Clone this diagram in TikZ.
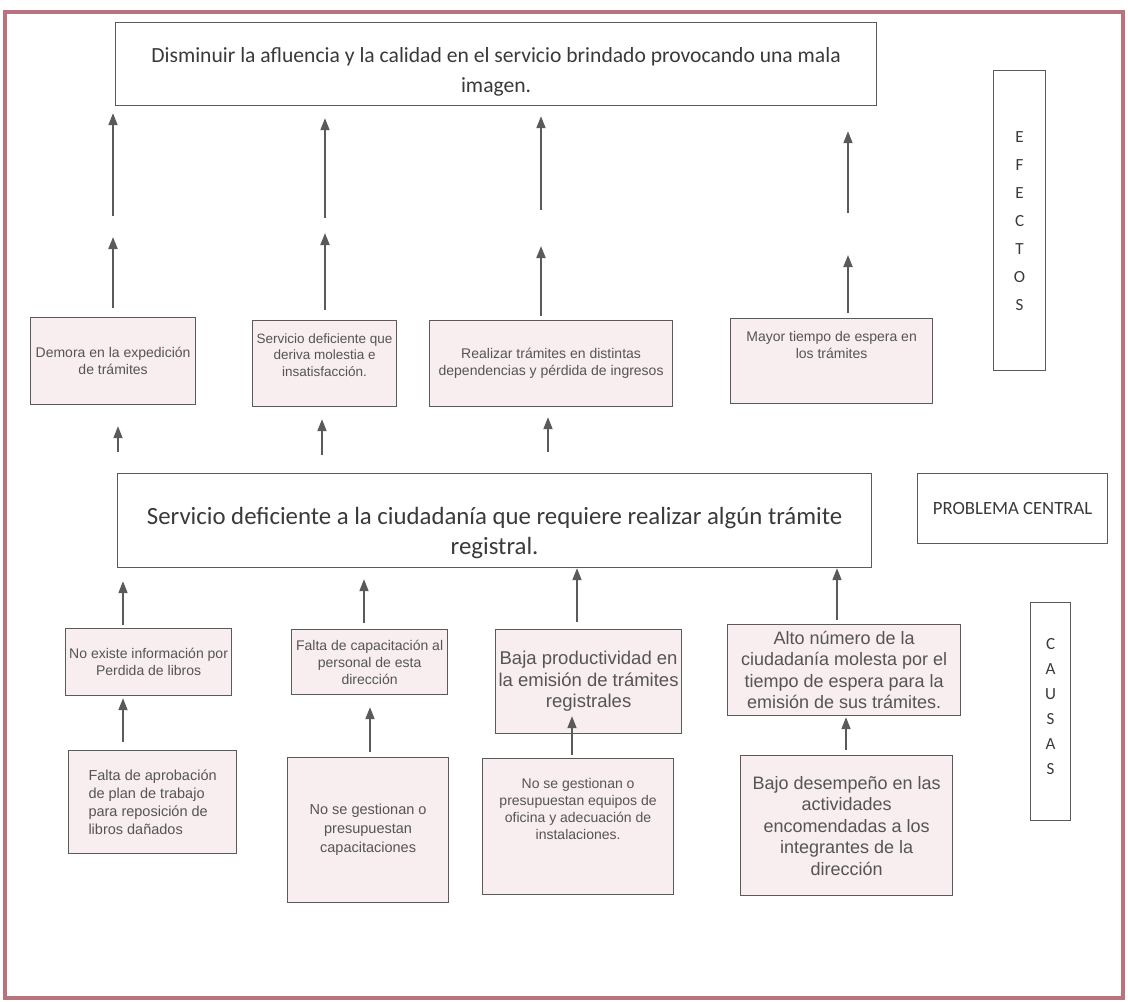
\documentclass[tikz,border=0pt]{standalone}
\usepackage{fontspec}
\setmainfont{Carlito}
\newfontfamily\arialf{Liberation Sans}
\usetikzlibrary{arrows.meta}

\definecolor{marco}{HTML}{B8737E}
\definecolor{rosa}{HTML}{F8EDEF}
\definecolor{linea}{HTML}{5A5A5A}
\definecolor{texto}{HTML}{3A3A3A}
\definecolor{textob}{HTML}{555555}

\tikzset{
  caja/.style={draw=linea, line width=1.2pt, fill=white, anchor=north west,
    inner sep=0pt, align=center, text=texto},
  rosabox/.style={caja, fill=rosa, text=textob},
  chico/.style={font=\arialf\fontsize{14}{17}\selectfont},
  grande/.style={font=\arialf\fontsize{18}{21.5}\selectfont},
  letras/.style={caja, font=\fontsize{17}{#1}\selectfont},
  arr/.style={draw=linea, line width=1.8pt, -{Triangle[length=12pt,width=9pt]}},
}

\begin{document}
\begin{tikzpicture}[x=1pt,y=-1pt]

\useasboundingbox (0,0) rectangle (1128,1002);
\draw[marco, line width=4pt] (5,12) rectangle (1123,998);

% efectos
\node[caja, minimum width=761pt, minimum height=83pt,
  font=\fontsize{21.6}{30}\selectfont] (top) at (115,22)
  {\rule{0pt}{31pt}Disminuir la afluencia y la calidad en el servicio brindado provocando una mala\\imagen.};
\node[letras=28, minimum width=52pt, minimum height=300pt] (efx) at (993,70)
  {E\\F\\E\\C\\T\\O\\S};

\node[rosabox, chico, minimum width=165pt, minimum height=87pt] (e1) at (30,317)
  {Demora en la expedición\\de trámites};
\node[rosabox, chico, font=\arialf\fontsize{13.5}{16.5}\selectfont,
  minimum width=144pt, minimum height=86pt, text depth=17pt] (e2) at (252,320)
  {Servicio deficiente que\\deriva molestia e\\insatisfacción.};
\node[rosabox, chico, minimum width=243pt, minimum height=86pt] (e3) at (429,320)
  {Realizar trámites en distintas\\dependencias y pérdida de ingresos};
\node[rosabox, chico, minimum width=202pt, minimum height=85pt, text depth=32pt] (e4) at (730,318)
  {Mayor tiempo de espera en\\los trámites};

% problema central
\node[caja, minimum width=754pt, minimum height=94pt,
  font=\fontsize{24.8}{30}\selectfont] (cen) at (117,473)
  {\rule{0pt}{42pt}Servicio deficiente a la ciudadanía que requiere realizar algún trámite\\registral.};
\node[caja, minimum width=190pt, minimum height=70pt,
  font=\fontsize{18.7}{20}\selectfont] (pc) at (917,473) {PROBLEMA CENTRAL};

% causas
\node[letras=25, minimum width=40pt, minimum height=218pt, text depth=10pt] (cau) at (1030,602)
  {C\\A\\U\\S\\A\\S};

\node[rosabox, chico, minimum width=166pt, minimum height=67pt] (c1) at (65,628)
  {No existe información por\\Perdida de libros};
\node[rosabox, chico, minimum width=156pt, minimum height=65pt] (c2) at (291,629)
  {Falta de capacitación al\\personal de esta\\dirección};
\node[rosabox, font=\arialf\fontsize{18.5}{21.5}\selectfont,
  minimum width=186pt, minimum height=104pt] (c3) at (495,629)
  {Baja productividad en\\la emisión de trámites\\registrales};
\node[rosabox, grande, minimum width=233pt, minimum height=91pt] (c4) at (727,624)
  {Alto número de la\\ciudadanía molesta por el\\tiempo de espera para la\\emisión de sus trámites.};

\node[rosabox, font=\arialf\fontsize{14.5}{18}\selectfont, align=left,
  minimum width=168pt, minimum height=103pt] (d1) at (68,750)
  {Falta de aprobación\\de plan de trabajo\\para reposición de\\libros dañados};
\node[rosabox, font=\arialf\fontsize{14.5}{19}\selectfont,
  minimum width=161pt, minimum height=145pt] (d2) at (287,757)
  {No se gestionan o\\presupuestan\\capacitaciones};
\node[rosabox, chico, minimum width=191pt, minimum height=136pt, text depth=35pt] (d3) at (482,758)
  {No se gestionan o\\presupuestan equipos de\\oficina y adecuación de\\instalaciones.};
\node[rosabox, grande, minimum width=212pt, minimum height=140pt] (d4) at (740,755)
  {Bajo desempeño en las\\actividades\\encomendadas a los\\integrantes de la\\dirección};

% flechas hacia los efectos
\foreach \i/\x/\m/\g/\t/\b in {1/113/226.5/10.5pt/7pt/9pt, 2/325/225.5/7.5pt/12pt/10pt,
                               3/541/228/18pt/10pt/4pt, 4/848/234/21pt/25pt/5pt}{
  \coordinate (m\i) at (\x,\m);
  \draw[arr, shorten <=\b, shorten >=\g] (e\i.north -| m\i) -- (m\i);
  \draw[arr, shorten <=\g, shorten >=\t] (m\i) -- (top.south -| m\i);
}
\foreach \i/\x/\b/\t in {1/118/21pt/21pt, 2/322/18pt/12pt, 3/548/21pt/10pt}
  \draw[arr, shorten <=\b, shorten >=\t] (cen.north -| \x,0) -- (e\i.south -| \x,0);

% flechas desde las causas
\foreach \i/\x/\b/\t in {1/123/3pt/13pt, 2/364/6pt/11pt, 3/577/7pt/0pt, 4/837/4pt/0pt}
  \draw[arr, shorten <=\b, shorten >=\t] (c\i.north -| \x,0) -- (cen.south -| \x,0);
\foreach \i/\x/\b/\t in {1/123/8pt/2pt, 2/370/5pt/12pt, 3/572/3pt/-18pt, 4/846/5pt/1pt}
  \draw[arr, shorten <=\b, shorten >=\t] (d\i.north -| \x,0) -- (c\i.south -| \x,0);

\end{tikzpicture}
\end{document}
